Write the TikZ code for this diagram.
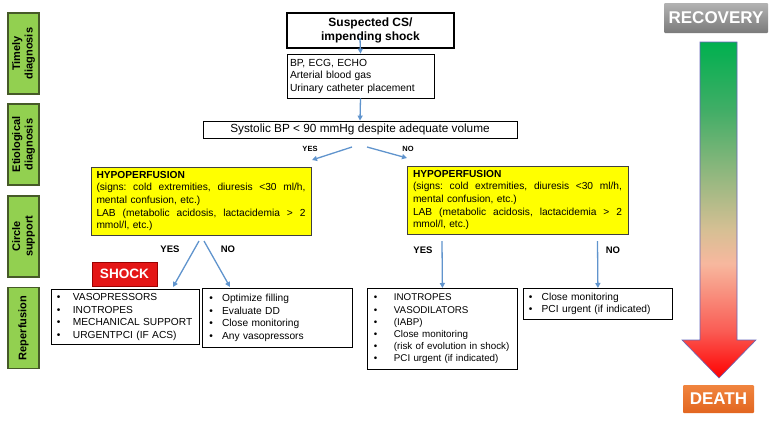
\documentclass[tikz,border=0pt]{standalone}
\usepackage{fontspec}
\setmainfont{Liberation Sans}
\usetikzlibrary{arrows.meta}
\definecolor{lblgreen}{RGB}{146,208,80}
\definecolor{lblborder}{RGB}{70,90,40}
\definecolor{arrblue}{RGB}{96,148,205}
\definecolor{shockred}{RGB}{228,22,22}
\definecolor{deathtop}{RGB}{240,132,62}
\definecolor{deathbot}{RGB}{226,102,32}
\definecolor{ybox}{RGB}{255,255,0}
\pgfdeclareverticalshading{riskshade}{100bp}{rgb(0bp)=(1,0,0); rgb(25bp)=(1,0,0); rgb(32bp)=(0.98,0.36,0.33); rgb(42bp)=(0.97,0.72,0.62); rgb(47bp)=(0.84,0.75,0.58); rgb(55bp)=(0.58,0.72,0.5); rgb(65bp)=(0.25,0.68,0.4); rgb(75bp)=(0,0.69,0.31); rgb(100bp)=(0,0.69,0.31)}
\newcommand{\bl}[2]{\mbox{\makebox[#1][l]{\textbullet}#2}}
\newcommand{\hypotext}{\textbf{HYPOPERFUSION}\\
\makebox[209pt][l]{(signs:\hfill cold\hfill extremities,\hfill diuresis\hfill <30\hfill ml/h,}\\
mental confusion, etc.)\\
\makebox[209pt][l]{LAB\hfill (metabolic\hfill acidosis,\hfill lactacidemia\hfill >\hfill 2}\\
mmol/l, etc.)}
\begin{document}
\begin{tikzpicture}[x=1pt,y=-1pt,
  lbl/.style={draw=lblborder, line width=1.2pt, fill=lblgreen, rotate=90,
    minimum width=81pt, minimum height=31pt, inner sep=0pt, align=center,
    font=\bfseries\fontsize{11}{12.5}\selectfont},
  box/.style={draw=black, line width=0.8pt, fill=white, inner ysep=1pt},
  hypo/.style={draw=black!75, line width=1pt, fill=ybox, inner xsep=5.5pt, inner ysep=2pt,
    text width=209pt, align=left, font=\fontsize{10.2}{12.6}\selectfont},
  lst/.style={box, anchor=north west, align=left, font=\fontsize{10.2}{12.4}\selectfont},
  arr/.style={draw=arrblue, line width=1.3pt, -{Triangle[length=5pt,width=5pt]}},
  yn/.style={font=\bfseries\fontsize{9.5}{11}\selectfont, inner sep=0pt},
  ynsmall/.style={font=\bfseries\fontsize{7.5}{9}\selectfont, inner sep=0pt}]
\useasboundingbox (0,0) rectangle (780,424);

% stage labels
\node[lbl] (l1) at (23.5,53.5) {Timely\\diagnosis};
\node[lbl] (l2) at (23.5,144.5) {Etiological\\diagnosis};
\node[lbl] (l3) at (23.5,236.5) {Circle\\support};
\node[lbl] (l4) at (23.5,328) {Reperfusion};

% top flow
\node[box, line width=1.2pt, minimum width=167pt, minimum height=35pt, align=center,
  font=\bfseries\fontsize{12}{13.4}\selectfont] (top) at (370.5,30.5) {Suspected CS/\\impending shock};
\node[box, minimum width=147pt, minimum height=44pt, inner xsep=3pt, text width=141pt, align=left,
  font=\fontsize{10.3}{12.5}\selectfont] (tests) at (360.5,76) {BP, ECG, ECHO\\Arterial blood gas\\Urinary catheter placement};
\node[box, minimum width=314pt, minimum height=17pt, inner sep=0pt,
  font=\fontsize{11.8}{13}\selectfont] (sbp) at (360,129.5) {Systolic BP < 90 mmHg despite adequate volume};

\coordinate (a1) at (360,38);
\draw[arr] (a1) -- (tests.north);
\draw[arr] (tests.south) -- (sbp.north);

\coordinate (sy0) at (352,147);
\coordinate (sy1) at (312,160);
\coordinate (sn0) at (367,147);
\coordinate (sn1) at (407,158);
\draw[arr] (sy0) -- (sy1);
\draw[arr] (sn0) -- (sn1);
\node[ynsmall] (syes) at (310,149) {YES};
\node[ynsmall] (sno) at (408,149) {NO};

% hypoperfusion boxes
\node[hypo, minimum width=220pt, minimum height=68pt] (hl) at (201,201) {\hypotext};
\node[hypo, minimum width=221pt, minimum height=68pt] (hr) at (517.5,200) {\hypotext};

% shock label
\node[draw=red!60!black, line width=0.8pt, fill=shockred, text=white, minimum width=65pt, minimum height=24pt,
  inner sep=0pt, font=\bfseries\fontsize{13.6}{15}\selectfont] (shock) at (124.5,274) {SHOCK};

% bottom boxes
\node[lst, minimum width=148pt, minimum height=55pt, inner xsep=5.5pt, text width=137pt] (b1) at (51,289)
  {\bl{16pt}{VASOPRESSORS}\\\bl{16pt}{INOTROPES}\\\bl{16pt}{MECHANICAL SUPPORT}\\\bl{16pt}{URGENTPCI (IF ACS)}};
\node[lst, minimum width=150pt, minimum height=59pt, inner xsep=7pt, text width=136pt] (b2) at (202,288)
  {\bl{12.7pt}{Optimize filling}\\\bl{12.7pt}{Evaluate DD}\\\bl{12.7pt}{Close monitoring}\\\bl{12.7pt}{Any vasopressors}};
\node[lst, minimum width=150pt, minimum height=81pt, inner xsep=6.5pt, text width=137pt,
  font=\fontsize{9.8}{12.2}\selectfont] (b3) at (367,288)
  {\bl{20pt}{INOTROPES}\\\bl{20pt}{VASODILATORS}\\\bl{20pt}{(IABP)}\\\bl{20pt}{Close monitoring}\\\bl{20pt}{(risk of evolution in shock)}\\\bl{20pt}{PCI urgent (if indicated)}};
\node[lst, minimum width=149pt, minimum height=31pt, inner xsep=5.5pt, text width=138pt] (b4) at (523,288)
  {\bl{12.8pt}{Close monitoring}\\\bl{12.8pt}{PCI urgent (if indicated)}};

% lower arrows
\coordinate (ly0) at (199,241);
\coordinate (ly1) at (173,287);
\coordinate (ln0) at (204,241);
\coordinate (ln1) at (230,287);
\draw[arr] (ly0) -- (ly1);
\draw[arr] (ln0) -- (ln1);
\node[yn] (lyes) at (170,249.5) {YES};
\node[yn] (lno) at (228,249.5) {NO};

\coordinate (ry0) at (442,241);
\coordinate (rn0) at (597.5,241);
\draw[arr] (ry0) -- (b3.north);
\draw[arr] (rn0) -- (b4.north);
\node[yn] (ryes) at (423,250) {YES};
\node[yn] (rno) at (613,250) {NO};

% recovery / death scale
\shadedraw[shading=riskshade, draw=black!45!blue!60, line width=0.6pt]
  (700,42) -- (737,42) -- (737,340) -- (756,340) -- (719,378) -- (682,340) -- (700,340) -- cycle;
\node[top color=black!30, bottom color=black!52, rounded corners=1pt, minimum width=104pt, minimum height=30pt,
  inner sep=0pt, text=white, font=\bfseries\fontsize{17}{19}\selectfont] (rec) at (716,18) {RECOVERY};
\node[top color=deathtop, bottom color=deathbot, rounded corners=1pt, minimum width=71pt, minimum height=28pt,
  inner sep=0pt, text=white, font=\bfseries\fontsize{17}{19}\selectfont] (death) at (718.5,399) {DEATH};
\end{tikzpicture}
\end{document}
